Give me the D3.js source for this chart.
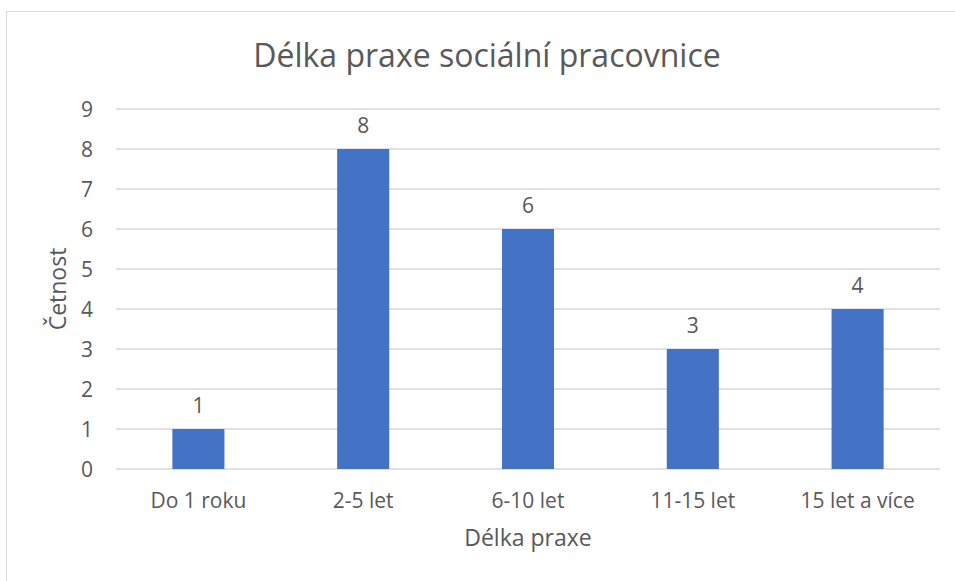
<!DOCTYPE html>
<html>
<head>
<meta charset="utf-8">
<script src="https://cdn.jsdelivr.net/npm/d3@7"></script>
<style>
  body { margin: 0; background: #fff; }
  text { font-family: 'Open Sans', sans-serif; fill: #595959; }
</style>
</head>
<body>
<svg id="chart" width="955" height="581"></svg>
<script>
const categories = ['Do 1 roku', '2-5 let', '6-10 let', '11-15 let', '15 let a více'];
const counts = [1, 8, 6, 3, 4];
const yTicks = [0, 1, 2, 3, 4, 5, 6, 7, 8, 9];

const margin = { top: 109, right: 15, bottom: 112, left: 116 };
const width = 955 - margin.left - margin.right;
const height = 581 - margin.top - margin.bottom;

const root = d3.select('#chart');

// chart frame
root.append('rect')
  .attr('x', 6.5).attr('y', 11.5)
  .attr('width', 960).attr('height', 600)
  .attr('fill', 'none')
  .attr('stroke', '#d9d9d9');

root.append('text')
  .attr('x', 487).attr('y', 67)
  .attr('text-anchor', 'middle')
  .style('font-size', '32px')
  .text('Délka praxe sociální pracovnice');

const svg = root.append('g')
  .attr('transform', `translate(${margin.left}, ${margin.top})`);

const x = d3.scaleBand()
  .domain(categories)
  .range([0, width])
  .paddingInner(0.684)
  .paddingOuter(0.342);

const y = d3.scaleLinear()
  .domain([0, 9])
  .range([height, 0]);

// gridlines
svg.append('g')
  .selectAll('line')
  .data(yTicks)
  .join('line')
  .attr('x1', 0).attr('x2', width)
  .attr('y1', d => y(d)).attr('y2', d => y(d))
  .attr('stroke', '#d9d9d9')
  .attr('stroke-width', 1.3);

// y tick labels
svg.append('g')
  .selectAll('text')
  .data(yTicks)
  .join('text')
  .attr('x', -23)
  .attr('y', d => y(d))
  .attr('dy', '0.36em')
  .attr('text-anchor', 'end')
  .style('font-size', '21px')
  .text(d => d);

// bars
svg.append('g')
  .selectAll('rect')
  .data(counts)
  .join('rect')
  .attr('x', (d, i) => x(categories[i]))
  .attr('y', d => y(d))
  .attr('width', x.bandwidth())
  .attr('height', d => height - y(d))
  .attr('fill', '#4472c4');

// value labels
svg.append('g')
  .selectAll('text')
  .data(counts)
  .join('text')
  .attr('x', (d, i) => x(categories[i]) + x.bandwidth() / 2)
  .attr('y', d => y(d) - 16)
  .attr('text-anchor', 'middle')
  .style('font-size', '21px')
  .text(d => d);

// category labels
svg.append('g')
  .selectAll('text')
  .data(categories)
  .join('text')
  .attr('x', d => x(d) + x.bandwidth() / 2)
  .attr('y', height + 39)
  .attr('text-anchor', 'middle')
  .style('font-size', '21px')
  .text(d => d);

// axis titles
svg.append('text')
  .attr('x', width / 2)
  .attr('y', height + 77)
  .attr('text-anchor', 'middle')
  .style('font-size', '23px')
  .text('Délka praxe');

svg.append('text')
  .attr('transform', `translate(${-50}, ${height / 2}) rotate(-90)`)
  .attr('text-anchor', 'middle')
  .style('font-size', '23px')
  .text('Četnost');
</script>
</body>
</html>
